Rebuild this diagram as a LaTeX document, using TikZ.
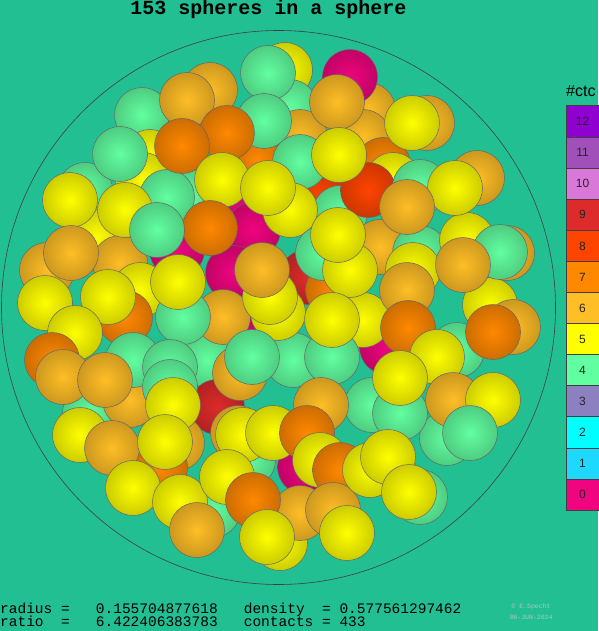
\documentclass[tikz,border=0pt]{standalone}
\usepackage{fontspec}
\newfontfamily\monofont{Liberation Mono}
\newfontfamily\sansfont{Liberation Sans}
\definecolor{bg}{HTML}{22BF92}
\definecolor{c0}{HTML}{F0047F}
\definecolor{c1}{HTML}{1ED8FF}
\definecolor{c2}{HTML}{00FFFF}
\definecolor{c3}{HTML}{8C80C0}
\definecolor{c4}{HTML}{62FFA0}
\definecolor{c5}{HTML}{FFFF00}
\definecolor{c6}{HTML}{FFBE26}
\definecolor{c7}{HTML}{FF8800}
\definecolor{c8}{HTML}{FF4400}
\definecolor{c9}{HTML}{DD2A2A}
\definecolor{c10}{HTML}{DA78DA}
\definecolor{c11}{HTML}{A050B8}
\definecolor{c12}{HTML}{9000D0}
\definecolor{cpgray}{HTML}{B4C4BE}
\colorlet{ballin}{c5}
\colorlet{ballout}{c5}
\pgfdeclareradialshading[ballin,ballout]{sph}{\pgfpointorigin}{color(0bp)=(ballin); color(25bp)=(ballout); color(50bp)=(ballout)}
\newcommand{\bl}[3]{\colorlet{ballin}{c#3}\colorlet{ballout}{c#3!80!black}%
  \shadedraw[shading=sph,draw=black!60,line width=0.5pt] (#1,#2) circle (27.5pt);}
\tikzset{legbox/.style={draw=black!75,line width=0.5pt},
  legnum/.style={font=\sansfont\fontsize{12}{12}\selectfont,text=black!85},
  cptext/.style={font=\monofont\fontsize{6.5}{6.5}\selectfont,text=cpgray,inner sep=0pt},
  bottomtext/.style={font=\monofont\fontsize{14.5}{14.5}\selectfont,anchor=base west,inner sep=0pt}}
\begin{document}
\begin{tikzpicture}[x=1pt,y=-1pt]
\fill[bg] (0,0) rectangle (598,631);
\useasboundingbox (0,0) rectangle (598,631);
% back tier
\bl{285}{70}{5}
\bl{290}{107}{4}
\bl{210}{90}{6}
\bl{368}{110}{6}
\bl{363}{137}{6}
\bl{300}{137}{6}
\bl{257}{160}{7}
\bl{142}{115}{4}
\bl{150}{157}{5}
\bl{143}{180}{5}
\bl{85}{190}{4}
\bl{190}{197}{4}
\bl{320}{197}{8}
\bl{243}{210}{0}
\bl{340}{213}{4}
\bl{383}{165}{7}
\bl{393}{180}{5}
\bl{427}{123}{6}
\bl{477}{178}{6}
\bl{253}{230}{0}
\bl{233}{273}{0}
\bl{307}{277}{9}
\bl{333}{290}{7}
\bl{47}{270}{6}
\bl{97}{237}{5}
\bl{120}{263}{6}
\bl{140}{290}{5}
\bl{177}{250}{0}
\bl{380}{247}{6}
\bl{420}{253}{4}
\bl{467}{240}{5}
\bl{507}{253}{6}
\bl{490}{305}{5}
\bl{513}{327}{6}
\bl{387}{347}{0}
\bl{457}{350}{4}
\bl{237}{340}{0}
\bl{207}{360}{4}
\bl{293}{360}{4}
\bl{223}{317}{6}
\bl{217}{407}{9}
\bl{238}{433}{6}
\bl{305}{467}{0}
\bl{248}{460}{4}
\bl{280}{543}{5}
\bl{300}{513}{6}
\bl{213}{510}{4}
\bl{177}{443}{6}
\bl{90}{413}{4}
\bl{130}{400}{6}
\bl{160}{467}{7}
\bl{372}{405}{4}
\bl{447}{438}{4}
\bl{420}{497}{4}
\bl{363}{320}{5}
\bl{278}{313}{5}
% mid / front tier
\bl{350}{77}{0}
\bl{268}{73}{4}
\bl{337}{102}{6}
\bl{187}{100}{6}
\bl{264}{121}{4}
\bl{227}{133}{7}
\bl{120}{154}{4}
\bl{167}{197}{4}
\bl{70}{200}{5}
\bl{125}{210}{5}
\bl{182}{146}{7}
\bl{300}{162}{4}
\bl{222}{180}{5}
\bl{290}{210}{5}
\bl{368}{190}{8}
\bl{420}{187}{4}
\bl{455}{188}{5}
\bl{412}{123}{5}
\bl{407}{207}{6}
\bl{339}{155}{5}
\bl{268}{188}{5}
\bl{210}{228}{7}
\bl{157}{230}{4}
\bl{323}{253}{4}
\bl{350}{270}{5}
\bl{270}{297}{5}
\bl{262}{270}{6}
\bl{338}{235}{5}
\bl{71}{253}{6}
\bl{45}{303}{5}
\bl{125}{318}{7}
\bl{108}{297}{5}
\bl{183}{317}{4}
\bl{178}{282}{5}
\bl{75}{333}{5}
\bl{52}{360}{7}
\bl{133}{360}{4}
\bl{63}{377}{6}
\bl{105}{380}{6}
\bl{170}{367}{4}
\bl{413}{270}{5}
\bl{500}{252}{4}
\bl{463}{265}{6}
\bl{407}{290}{6}
\bl{493}{332}{7}
\bl{408}{328}{7}
\bl{437}{357}{5}
\bl{332}{357}{4}
\bl{332}{320}{5}
\bl{240}{373}{6}
\bl{252}{357}{4}
\bl{400}{413}{4}
\bl{400}{378}{5}
\bl{453}{400}{6}
\bl{493}{400}{5}
\bl{470}{433}{4}
\bl{80}{435}{5}
\bl{112}{448}{6}
\bl{170}{387}{4}
\bl{173}{405}{5}
\bl{165}{442}{5}
\bl{133}{488}{5}
\bl{180}{502}{5}
\bl{197}{530}{6}
\bl{243}{435}{5}
\bl{273}{433}{5}
\bl{321}{405}{6}
\bl{307}{433}{7}
\bl{320}{460}{5}
\bl{340}{470}{7}
\bl{227}{477}{5}
\bl{253}{500}{7}
\bl{267}{537}{5}
\bl{333}{510}{6}
\bl{347}{533}{5}
\bl{370}{470}{5}
\bl{388}{457}{5}
\bl{409}{492}{5}
% container
\draw[black!75,line width=0.6pt] (278.5,307.5) circle (277pt);
% title
\node[font=\monofont\bfseries\fontsize{20}{20}\selectfont,anchor=base] (title) at (268.5,15) {153 spheres in a sphere};
% legend
\node[font=\sansfont\fontsize{16}{16}\selectfont,anchor=base west,inner sep=0pt] (leghead) at (566,97) {\#ctc};
\foreach \n [count=\i from 0] in {12,11,10,9,8,7,6,5,4,3,2,1,0} {
  \draw[legbox,fill=c\n] (566,105.7+31.1*\i) rectangle (600,136.8+31.1*\i);
  \node[legnum] (leg\n) at (582.5,121.5+31.1*\i) {\n};
}
% bottom text
\node[bottomtext] (l1) at (0,613) {radius =\ \ \ 0.155704877618\ \ \ density\ \ = 0.577561297462};
\node[bottomtext] (l2) at (0,626.5) {ratio\ \ =\ \ \ 6.422406383783\ \ \ contacts = 433};
\node[cptext] (cp1) at (531,607) {\textcopyright{} E.S\textsc{pecht}};
\node[cptext] (cp2) at (531,617) {06-JUN-2024};
\end{tikzpicture}
\end{document}
